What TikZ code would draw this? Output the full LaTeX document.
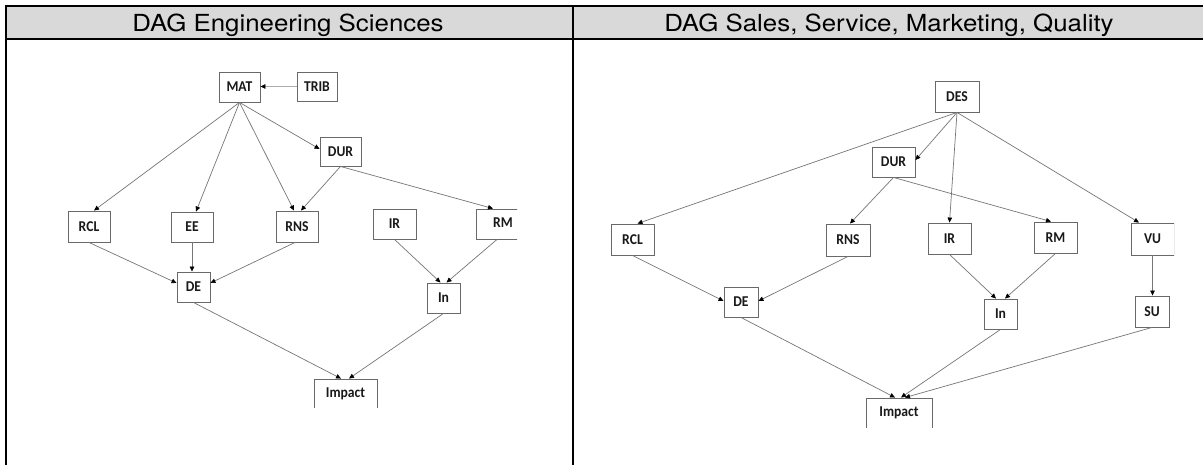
\documentclass[tikz,border=0pt]{standalone}
\usepackage{fontspec}
\usetikzlibrary{arrows.meta}
\newfontfamily\headfont[FakeStretch=1.1]{TeX Gyre Heros}
\newfontfamily\boxfont[FakeStretch=0.91]{Carlito}
\definecolor{headgray}{RGB}{217,217,217}
\definecolor{boxline}{RGB}{105,105,105}
\definecolor{edgeline}{RGB}{118,118,118}
\definecolor{labeltext}{RGB}{25,25,25}
\tikzset{
  var/.style={draw=boxline, line width=0.9pt, fill=white, inner sep=0pt,
    font=\boxfont\bfseries\fontsize{15}{15}\selectfont, text=labeltext},
  link/.style={draw=edgeline, line width=0.7pt,
    -{Triangle[length=5pt,width=4.5pt,color=black]}},
  headtext/.style={inner sep=0pt, anchor=base,
    font=\headfont\fontsize{23.5}{23.5}\selectfont},
  rule/.style={line width=2pt, black}
}
\begin{document}
\begin{tikzpicture}[x=1pt,y=-1pt]
\useasboundingbox (0,0) rectangle (1203,465);
\fill[white] (0,0) rectangle (1203,465);

% table frame and header row
\fill[headgray] (6,6) rectangle (1203,39);
\draw[rule] (6,465) -- (6,6) -- (1203,6);
\draw[rule] (6,39) -- (1203,39);
\draw[rule] (573,6) -- (573,465);
\node[headtext] (h1) at (288,31.5) {DAG Engineering Sciences};
\node[headtext] (h2) at (889,31.5) {DAG Sales, Service, Marketing, Quality};

% ---------- engineering sciences ----------
\begin{scope}
\clip (8,41) rectangle (517,407.5);
\node[var, minimum width=41pt, minimum height=30pt] (MAT)  at (239.5,87)   {MAT};
\node[var, minimum width=40pt, minimum height=29pt] (TRIB) at (317,86.5)   {TRIB};
\node[var, minimum width=41pt, minimum height=29pt] (DUR)  at (340.5,151.5){DUR};
\node[var, minimum width=42pt, minimum height=31pt] (RCL)  at (89,226.5)   {RCL};
\node[var, minimum width=42pt, minimum height=30pt] (EE)   at (192,227)    {EE};
\node[var, minimum width=42pt, minimum height=31pt] (RNS)  at (297,226.5)  {RNS};
\node[var, minimum width=43pt, minimum height=30pt] (IR)   at (394.5,224)  {IR};
\node[var, minimum width=55pt, minimum height=30pt] (RM)   at (503.5,224)  {};
\node[font=\boxfont\bfseries\fontsize{15}{15}\selectfont, text=labeltext, inner sep=0pt]
  (RMt) at (503,222.5) {RM};
\node[var, minimum width=33pt, minimum height=30pt] (DE)   at (193.5,287)  {DE};
\node[var, minimum width=33pt, minimum height=30pt] (In)   at (443.5,298)  {In};
\node[var, minimum width=63pt, minimum height=29pt] (Imp)  at (345.5,393.5){Impact};

\draw[link, draw=edgeline!60] (TRIB.west) -- (MAT.east |- TRIB.west);
\draw[link] (MAT.south) -- ([xshift=5pt]RCL.north);
\draw[link] (MAT.south) -- ([xshift=4pt]EE.north);
\draw[link] (MAT.south) -- ([xshift=-3pt]RNS.north);
\draw[link] (MAT.south) -- ([yshift=2.5pt]DUR.west);
\draw[link] (DUR.south) -- ([xshift=4pt]RNS.north);
\draw[link] (DUR.south) -- ([xshift=-10.5pt]RM.north);
\draw[link] (RCL.south) -- ([yshift=4pt]DE.west);
\draw[link] (EE.south) -- (EE.south |- DE.north);
\draw[link] ([xshift=-2pt]RNS.south) -- ([yshift=4pt]DE.east);
\draw[link] (IR.south) -- ([xshift=-3pt]In.north);
\draw[link] ([xshift=-6.5pt]RM.south) -- ([xshift=3pt]In.north);
\draw[link] (DE.south) -- ([xshift=-4.5pt]Imp.north);
\draw[link] (In.south) -- ([xshift=3.5pt]Imp.north);
\end{scope}

% ---------- sales, service, marketing, quality ----------
\begin{scope}
\clip (575,41) rectangle (1174,427.5);
\node[var, minimum width=44pt, minimum height=31pt] (DES2) at (957,96.5)   {DES};
\node[var, minimum width=43pt, minimum height=30pt] (DUR2) at (893.5,162)  {DUR};
\node[var, minimum width=43pt, minimum height=31pt] (RCL2) at (632.5,239.5){RCL};
\node[var, minimum width=44pt, minimum height=32pt] (RNS2) at (848,240)    {RNS};
\node[var, minimum width=43pt, minimum height=31pt] (IR2)  at (949.5,238.5){IR};
\node[var, minimum width=43pt, minimum height=31pt] (RM2)  at (1055.5,237.5){RM};
\node[var, minimum width=43pt, minimum height=32pt] (VU2)  at (1152.5,239) {VU};
\node[var, minimum width=34pt, minimum height=30pt] (DE2)  at (741,302)    {DE};
\node[var, minimum width=33pt, minimum height=30pt] (In2)  at (1000.5,314) {In};
\node[var, minimum width=34pt, minimum height=31pt] (SU2)  at (1152,311.5) {SU};
\node[var, minimum width=66pt, minimum height=30pt] (Imp2) at (899,413)    {Impact};

\draw[link] (DES2.south) -- ([xshift=5pt]RCL2.north);
\draw[link] (DES2.south) -- ([yshift=2pt]DUR2.east);
\draw[link] (DES2.south) -- (IR2.north);
\draw[link] (DES2.south) -- ([xshift=-13.5pt]VU2.north);
\draw[link] (DUR2.south) -- ([xshift=2pt]RNS2.north);
\draw[link] (DUR2.south) -- ([xshift=-4.5pt]RM2.north);
\draw[link] (RCL2.south) -- ([yshift=1pt]DE2.west);
\draw[link] (RNS2.south) -- ([yshift=1pt]DE2.east);
\draw[link] (IR2.south) -- ([xshift=-4.5pt]In2.north);
\draw[link] (RM2.south) -- ([xshift=4.5pt]In2.north);
\draw[link] (VU2.south) -- (VU2.south |- SU2.north);
\draw[link] (DE2.south) -- ([xshift=-4pt]Imp2.north);
\draw[link] (In2.south) -- ([xshift=2pt]Imp2.north);
\draw[link] (SU2.south) -- ([xshift=6pt]Imp2.north);
\end{scope}
\end{tikzpicture}
\end{document}
